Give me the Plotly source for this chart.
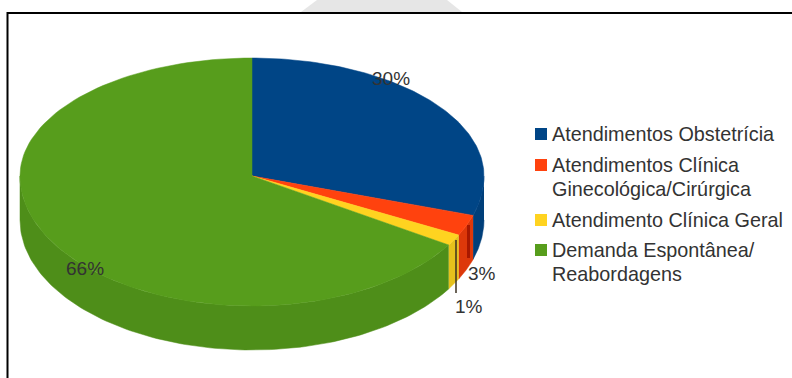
import numpy as np
import plotly.graph_objects as go

categories = ["Atendimentos Obstetrícia", "Atendimentos Clínica<br>Ginecológica/Cirúrgica",
              "Atendimento Clínica Geral", "Demanda Espontânea/<br>Reabordagens"]
shares = [29.9, 2.6, 1.4, 66.1]
value_labels = ["30%", "3%", "1%", "66%"]
top_colors = ["#004586", "#FF420E", "#FFD320", "#579D1C"]
side_colors = ["#003F7A", "#DD380A", "#E6C21C", "#4E8E19"]

# 3D pie geometry in page pixels (front half is larger, as in a perspective view)
cx, cy, rx, ry_back, ry_front, depth = 252, 176, 232, 118, 130, 44
FONT = "Liberation Sans, Arial, sans-serif"

fractions = np.cumsum([0] + shares) / sum(shares) * 2 * np.pi

def arc(a0, a1, dy=0, n=120):
    t = np.linspace(a0, a1, n)
    c = np.cos(t)
    return cx + rx * np.sin(t), cy - np.where(c > 0, ry_back, ry_front) * c + dy

fig = go.Figure()

# Side walls: only the part of each slice on the front half (90-270 degrees)
for i in range(4):
    a0 = max(fractions[i], np.pi / 2)
    a1 = min(fractions[i + 1], 3 * np.pi / 2)
    if a1 <= a0:
        continue
    x1, y1 = arc(a0, a1)
    x2, y2 = arc(a0, a1, depth)
    fig.add_trace(go.Scatter(x=np.r_[x1, x2[::-1]], y=np.r_[y1, y2[::-1]], fill="toself", mode="lines",
                             line=dict(color=side_colors[i], width=0.5), fillcolor=side_colors[i],
                             hoverinfo="skip", showlegend=False))
# Top surface
for i in range(4):
    x, y = arc(fractions[i], fractions[i + 1])
    fig.add_trace(go.Scatter(x=np.r_[cx, x, cx], y=np.r_[cy, y, cy], fill="toself", mode="lines",
                             line=dict(color=top_colors[i], width=0.5), fillcolor=top_colors[i],
                             name=categories[i].replace("<br>", " "), hoverinfo="name", showlegend=False))

# Leader lines
fig.add_trace(go.Scatter(x=[468.5, 468.5], y=[225, 258], mode="lines", line=dict(color="#A81800", width=3),
                         hoverinfo="skip", showlegend=False))
fig.add_trace(go.Scatter(x=[456, 456], y=[240, 293], mode="lines", line=dict(color="#3A3020", width=1.5),
                         hoverinfo="skip", showlegend=False))

# Legend swatches
legend_swatch_y = [134, 165, 220, 250]
fig.add_trace(go.Scatter(x=[541] * 4, y=legend_swatch_y, mode="markers",
                         marker=dict(symbol="square", size=12, color=top_colors),
                         hoverinfo="skip", showlegend=False))

annotations = []
for lab, (lx, ly) in zip(value_labels, [(391, 78), (482, 273), (469, 306), (85, 268)]):
    annotations.append(dict(x=lx, y=ly, text=lab, showarrow=False, xanchor="center", yanchor="middle",
                            font=dict(family=FONT, size=19, color="#333333")))
for cat, sy in zip(categories, legend_swatch_y):
    for j, line in enumerate(cat.split("<br>")):
        annotations.append(dict(x=550, y=sy + j * 24, text=line, showarrow=False, xanchor="left", yanchor="middle",
                                font=dict(family=FONT, size=19.8, color="#333333")))

shapes = [
    dict(type="path", path="M 301 12 L 317 0 L 447 0 L 462 12 Z", fillcolor="#E6E6E6",
         line=dict(width=0), layer="below"),
    dict(type="line", x0=7.5, x1=7.5, y0=12, y1=378, line=dict(color="#000", width=2), layer="below"),
    dict(type="line", x0=7, x1=792, y0=13, y1=13, line=dict(color="#000", width=2), layer="below"),
]

fig.update_layout(
    width=792, height=378, margin=dict(l=0, r=0, t=0, b=0),
    paper_bgcolor="white", plot_bgcolor="white", showlegend=False,
    xaxis=dict(range=[0, 792], visible=False, fixedrange=True),
    yaxis=dict(range=[378, 0], visible=False, fixedrange=True),
    annotations=annotations, shapes=shapes,
)
fig.write_html("out.html", config=dict(displayModeBar=False),
               post_script="document.body.style.margin='0';document.body.style.overflow='hidden';")
